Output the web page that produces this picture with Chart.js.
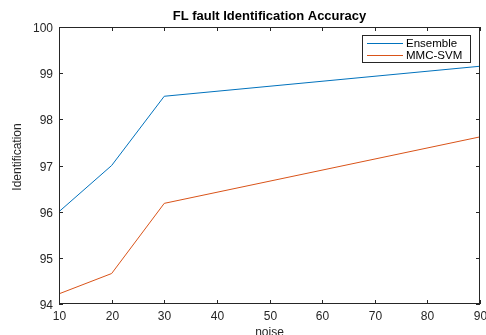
<!DOCTYPE html>
<html>
<head>
<meta charset="utf-8">
<script src="https://cdn.jsdelivr.net/npm/chart.js@4.4.1/dist/chart.umd.min.js"></script>
<style>
  html, body { margin: 0; padding: 0; background: #fff; }
  #wrap { width: 486px; height: 335px; }
</style>
</head>
<body>
<div id="wrap"><canvas id="accChart" width="486" height="335"></canvas></div>
<script>
// noise levels on the x axis
const noise = [10, 20, 30, 90];
// identification accuracy (%) per method
const ensemble = [96.0, 97.0, 98.5, 99.15];
const mmcSvm = [94.22, 94.66, 96.18, 97.62];
const seriesNames = ['Ensemble', 'MMC-SVM'];
const chartTitle = 'FL fault Identification Accuracy';

const FONT = "'Liberation Sans', Arial, Helvetica, sans-serif";
const COLORS = ['#0072BD', '#D95319'];

function toPoints(xs, ys) {
    return xs.map((x, i) => ({ x: x, y: ys[i] }));
}

// MATLAB-ish box, inner ticks, tick labels, titles and legend
const matlabLook = {
    id: 'matlabLook',
    afterDraw(chart) {
        const { ctx, chartArea: a, scales } = chart;
        ctx.save();
        ctx.strokeStyle = '#262626';
        ctx.lineWidth = 1;
        ctx.strokeRect(a.left + 0.5, a.top + 0.5, a.right - a.left - 1, a.bottom - a.top - 1);

        // inner ticks + labels
        ctx.fillStyle = '#262626';
        ctx.font = '12px ' + FONT;
        ctx.beginPath();
        ctx.textAlign = 'center';
        ctx.textBaseline = 'middle';
        scales.x.ticks.forEach(t => {
            const px = Math.round(scales.x.getPixelForValue(t.value)) + 0.5;
            ctx.moveTo(px, a.bottom); ctx.lineTo(px, a.bottom - 4);
            ctx.moveTo(px, a.top); ctx.lineTo(px, a.top + 4);
            ctx.fillText(String(t.value), px, a.bottom + 13);
        });
        ctx.textAlign = 'right';
        scales.y.ticks.forEach(t => {
            const py = Math.round(scales.y.getPixelForValue(t.value)) + 0.5;
            ctx.moveTo(a.left, py); ctx.lineTo(a.left + 4, py);
            ctx.moveTo(a.right, py); ctx.lineTo(a.right - 4, py);
            ctx.fillText(String(t.value), a.left - 6, py + 1);
        });
        ctx.stroke();

        // title
        ctx.fillStyle = '#000';
        ctx.font = 'bold 13px ' + FONT;
        ctx.textAlign = 'center';
        ctx.fillText(chartTitle, (a.left + a.right) / 2, 16);

        // axis titles
        ctx.fillStyle = '#262626';
        ctx.font = '12px ' + FONT;
        ctx.fillText(scales.x.options.title.text, (a.left + a.right) / 2, 333);
        ctx.save();
        ctx.translate(18, 157);
        ctx.rotate(-Math.PI / 2);
        ctx.fillText(scales.y.options.title.text, 0, 0);
        ctx.restore();

        // legend box
        const lx = 362, ly = 35, lw = 108, lh = 27;
        ctx.fillStyle = '#fff';
        ctx.fillRect(lx, ly, lw, lh);
        ctx.strokeStyle = '#262626';
        ctx.strokeRect(lx + 0.5, ly + 0.5, lw, lh);
        ctx.font = '11.5px ' + FONT;
        ctx.textAlign = 'left';
        chart.data.datasets.forEach((ds, i) => {
            const y = ly + 8 + i * 12;
            ctx.fillStyle = COLORS[i];
            ctx.fillRect(lx + 5, y, 36, 1);
            ctx.fillStyle = '#000';
            ctx.fillText(ds.label, lx + 44, y + 1);
        });
        ctx.restore();
    }
};

new Chart(document.getElementById('accChart'), {
    type: 'line',
    data: {
        datasets: [
            { label: seriesNames[0], data: toPoints(noise, ensemble), borderColor: COLORS[0], borderWidth: 1, pointRadius: 0, tension: 0 },
            { label: seriesNames[1], data: toPoints(noise, mmcSvm), borderColor: COLORS[1], borderWidth: 1, pointRadius: 0, tension: 0 }
        ]
    },
    options: {
        responsive: false,
        animation: false,
        layout: { padding: { left: 0, right: 6, top: 27, bottom: 0 } },
        plugins: {
            legend: { display: false },
            title: { display: false },
            tooltip: { enabled: false }
        },
        scales: {
            x: {
                type: 'linear',
                min: 10,
                max: 90,
                ticks: { stepSize: 10, display: false },
                grid: { display: false },
                border: { display: false },
                title: { display: false, text: 'noise' },
                afterFit(s) { s.height = 31; }
            },
            y: {
                min: 94,
                max: 100,
                ticks: { stepSize: 1, display: false },
                grid: { display: false },
                border: { display: false },
                title: { display: false, text: 'Identification' },
                afterFit(s) { s.width = 59; }
            }
        }
    },
    plugins: [matlabLook]
});
</script>
</body>
</html>
